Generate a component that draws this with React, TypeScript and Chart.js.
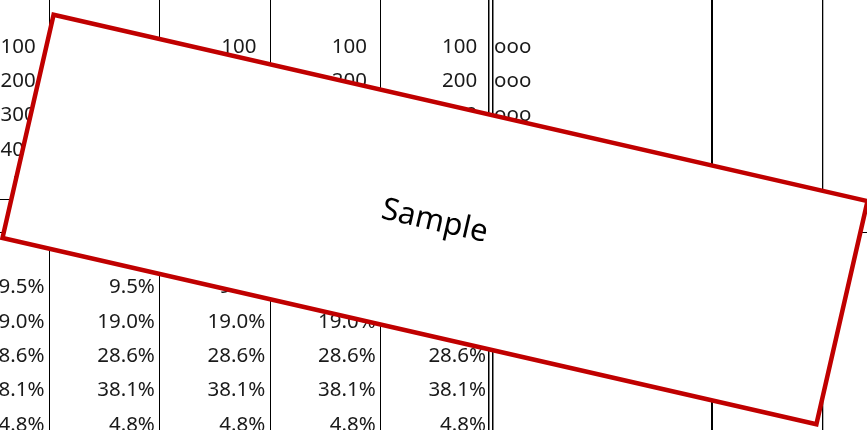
import { useEffect, useRef } from 'react';
import { Chart, ScatterController, PointElement, LinearScale } from 'chart.js';

Chart.register(ScatterController, PointElement, LinearScale);

// sheet contents
const columns = ['A', 'B', 'C', 'D', 'E'];
const counts = [100, 200, 300, 400, 50];
const shares = ['9.5%', '19.0%', '28.6%', '38.1%', '4.8%'];
const marks = ['ooo', 'ooo', 'ooo', 'ooo', 'ooo'];

// grid (column units / row units)
const colLines = [1, 2, 3, 4, 4.979, 5.015, 7, 8];
const colLineWidths = [1, 1, 1, 1, 1.5, 1.5, 2, 1.3];
const rowLines = [4.475, 5.444];
const shareRowStart = 7;
const markColumn = 5;

const FONT = '20.5px "Noto Sans", "DejaVu Sans", sans-serif';

const cellText = {
  id: 'cellText',
  afterDatasetsDraw(chart: any) {
    const ctx = chart.ctx;
    ctx.save();
    ctx.font = FONT;
    ctx.fillStyle = '#1a1a1a';
    ctx.textBaseline = 'alphabetic';
    chart.data.datasets.forEach((ds: any, i: number) => {
      const meta = chart.getDatasetMeta(i);
      ctx.textAlign = ds.cellAlign;
      meta.data.forEach((pt: any, j: number) => {
        const x = ds.cellAlign === 'right' ? pt.x - ds.cellPad : pt.x + ds.cellPad;
        ctx.fillText(ds.data[j].label, x, pt.y + 7.4);
      });
    });
    ctx.restore();
  },
};

// the "Sample" stamp lying over the sheet
const stamp = { cx: 435, cy: 219.5, w: 835, h: 229, angle: 12.9 };

const sampleStamp = {
  id: 'sampleStamp',
  afterDraw(chart: any) {
    const ctx = chart.ctx;
    ctx.save();
    ctx.translate(stamp.cx, stamp.cy);
    ctx.rotate((stamp.angle * Math.PI) / 180);
    ctx.fillStyle = '#ffffff';
    ctx.fillRect(-stamp.w / 2, -stamp.h / 2, stamp.w, stamp.h);
    ctx.strokeStyle = '#c00000';
    ctx.lineWidth = 4.5;
    ctx.strokeRect(-stamp.w / 2, -stamp.h / 2, stamp.w, stamp.h);
    ctx.fillStyle = '#000000';
    ctx.font = '31px "Noto Sans", sans-serif';
    ctx.textAlign = 'center';
    ctx.textBaseline = 'middle';
    ctx.fillText('Sample', 0, 2);
    ctx.restore();
  },
};

export default function App() {
  const canvasRef = useRef<HTMLCanvasElement>(null);
  const chartRef = useRef<Chart | null>(null);

  useEffect(() => {
    if (!canvasRef.current) return;
    document.body.style.margin = '0';

    const countCells = columns.flatMap((_, c) =>
      counts.map((v, r) => ({ x: c + 1, y: r, label: String(v) }))
    );
    const shareCells = columns.flatMap((_, c) =>
      shares.map((s, r) => ({ x: c + 1, y: r + shareRowStart, label: s }))
    );
    const markCells = marks.map((m, r) => ({ x: markColumn, y: r, label: m }));

    chartRef.current = new Chart(canvasRef.current, {
      type: 'scatter',
      data: {
        datasets: [
          { data: countCells, pointRadius: 0, cellAlign: 'right', cellPad: 13.8 } as any,
          { data: shareCells, pointRadius: 0, cellAlign: 'right', cellPad: 5 } as any,
          { data: markCells, pointRadius: 0, cellAlign: 'left', cellPad: 3 } as any,
        ],
      },
      options: {
        animation: false,
        responsive: true,
        maintainAspectRatio: false,
        events: [],
        layout: { padding: 0, autoPadding: false },
        plugins: { legend: { display: false }, tooltip: { enabled: false } },
        scales: {
          x: {
            type: 'linear',
            min: 0.5516,
            max: 8.4049,
            afterBuildTicks: (s: any) => { s.ticks = colLines.map((v) => ({ value: v })); },
            ticks: { display: false },
            border: { display: false },
            grid: {
              drawTicks: false,
              color: '#000000',
              lineWidth: (c: any) => colLineWidths[c.index] ?? 1,
            },
          },
          y: {
            type: 'linear',
            reverse: true,
            min: -1.315,
            max: 11.196,
            afterBuildTicks: (s: any) => { s.ticks = rowLines.map((v) => ({ value: v })); },
            ticks: { display: false },
            border: { display: false },
            grid: { drawTicks: false, color: '#000000', lineWidth: 1 },
          },
        },
      },
      plugins: [cellText, sampleStamp],
    });

    return () => {
      chartRef.current?.destroy();
      chartRef.current = null;
    };
  }, []);

  return (
    <div style={{ position: 'fixed', left: 0, top: 0, width: 867, height: 430, background: '#ffffff' }}>
      <canvas ref={canvasRef} />
    </div>
  );
}
